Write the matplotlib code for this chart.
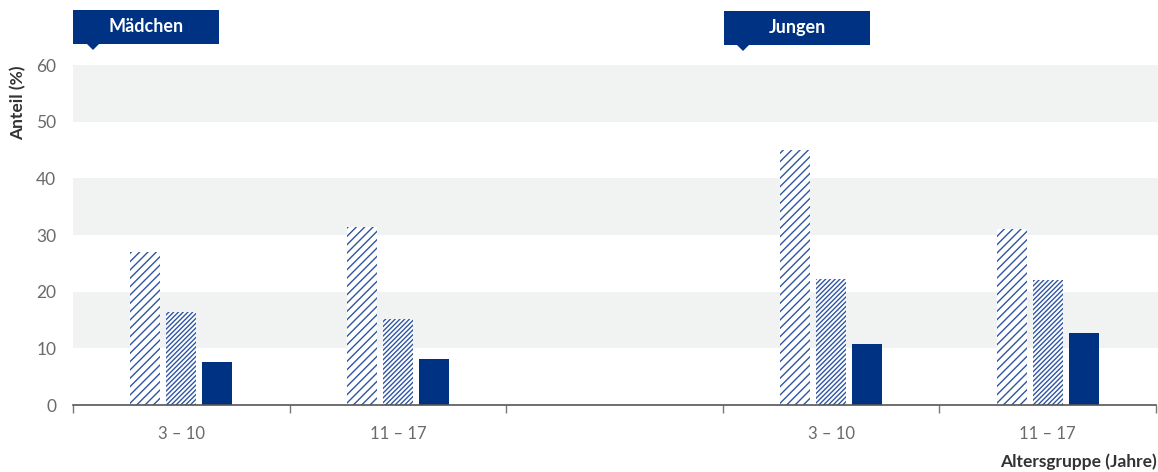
import matplotlib
matplotlib.use("Agg")
import matplotlib.pyplot as plt
from matplotlib.patches import Rectangle, Polygon

plt.rcParams['font.family'] = ['Lato', 'DejaVu Sans']
plt.rcParams['hatch.linewidth'] = 1.0

# Data
groups = ["Mädchen", "Jungen"]
slot_positions = [0.5, 1.5, 3.5, 4.5]
tick_labels = ["3 – 10", "11 – 17", "3 – 10", "11 – 17"]
series_a = [27.0, 31.4, 45.0, 31.1]   # wide hatch
series_b = [16.4, 15.2, 22.2, 22.1]   # dense hatch
series_c = [7.6, 8.1, 10.8, 12.7]     # solid
yticks = [0, 10, 20, 30, 40, 50, 60]

navy = '#003283'
hatch_col = '#2f55a4'
grey_text = '#6a6a6a'
band = '#f1f2f2'

W, H = 1158, 472
fig = plt.figure(figsize=(W / 100, H / 100), dpi=100)
ax = fig.add_axes([73 / W, 1 - 405 / H, (1156 - 73) / W, (405 - 65) / H])
ax.set_xlim(0, 5)
ax.set_ylim(0, 60)

for lo in (10, 30, 50):
    ax.add_patch(Rectangle((0, lo), 5.05, 10, facecolor=band, edgecolor='none',
                           clip_on=False, zorder=0))

bw = 0.138
off = 0.166
x = slot_positions
ax.bar([p - off for p in x], series_a, width=bw, facecolor='white',
       edgecolor=hatch_col, linewidth=0, hatch='////', zorder=2)
ax.bar(x, series_b, width=bw, facecolor='white',
       edgecolor=hatch_col, linewidth=0, hatch='///////', zorder=2)
ax.bar([p + off for p in x], series_c, width=bw, facecolor=navy,
       edgecolor='none', linewidth=0, zorder=2)

for s in ('top', 'right', 'left'):
    ax.spines[s].set_visible(False)
ax.spines['bottom'].set_color('#555555')
ax.spines['bottom'].set_linewidth(1.2)

ax.set_xticks([0, 1, 2, 3, 4, 5])
ax.set_xticks(x, minor=True)
ax.set_xticklabels([])
ax.set_xticklabels(tick_labels, minor=True)
ax.tick_params(axis='x', which='major', length=6, width=1.0, color='#777777', direction='out')
ax.tick_params(axis='x', which='minor', length=0, pad=15, labelsize=12, labelcolor=grey_text)
ax.set_yticks(yticks)
ax.tick_params(axis='y', length=0, pad=12, labelsize=12.5, labelcolor=grey_text)

fig.text(18 / W, 1 - 65 / H, "Anteil (%)", rotation=90, ha='center', va='top',
         fontsize=12.5, fontweight='bold', color='#333333')
fig.text(1157 / W, 1 - 462 / H, "Altersgruppe (Jahre)", ha='right', va='center',
         fontsize=12.5, fontweight='bold', color='#333333')

# header boxes
for (x0, x1, y0, y1, px, label) in [(73, 219, 10, 44, 93, groups[0]),
                                     (724, 870, 11, 45, 743, groups[1])]:
    fig.patches.append(Rectangle((x0 / W, 1 - y1 / H), (x1 - x0) / W, (y1 - y0) / H,
                                 facecolor=navy, edgecolor='none',
                                 transform=fig.transFigure))
    fig.patches.append(Polygon([((px - 6) / W, 1 - y1 / H), ((px + 6) / W, 1 - y1 / H),
                                (px / W, 1 - (y1 + 6) / H)], closed=True,
                               facecolor=navy, edgecolor='none',
                               transform=fig.transFigure))
    fig.text((x0 + x1) / 2 / W, 1 - (y0 + y1) / 2 / H, label, ha='center', va='center',
             fontsize=13, fontweight='bold', color='white')

fig.savefig("out.png", dpi=100)
